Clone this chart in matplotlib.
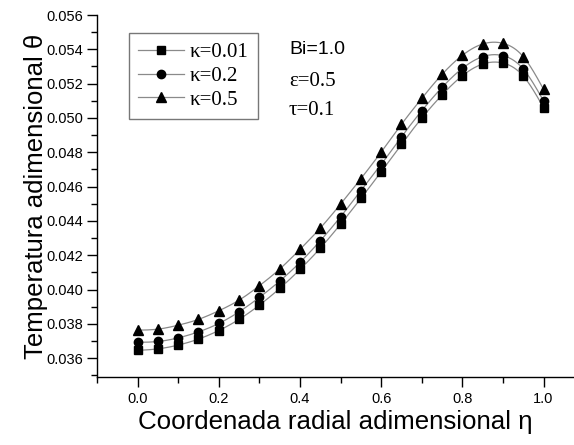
import numpy as np
import matplotlib
matplotlib.use("Agg")
import matplotlib.pyplot as plt
from matplotlib.ticker import MultipleLocator, FormatStrFormatter
from matplotlib.lines import Line2D

# Radial coordinate samples
eta = [0.00, 0.05, 0.10, 0.15, 0.20, 0.25, 0.30, 0.35, 0.40, 0.45, 0.50,
       0.55, 0.60, 0.65, 0.70, 0.75, 0.80, 0.85, 0.90, 0.95, 1.00]

# Dimensionless temperature for each kappa
theta_k001 = [0.03645, 0.03654, 0.03676, 0.03711, 0.03761, 0.03826, 0.03909,
              0.04006, 0.04117, 0.04241, 0.04381, 0.04531, 0.04686, 0.04846,
              0.04999, 0.05134, 0.05246, 0.05314, 0.05320, 0.05244, 0.05060]
theta_k02 = [0.03692, 0.03697, 0.03718, 0.03753, 0.03802, 0.03870, 0.03954,
             0.04049, 0.04158, 0.04284, 0.04424, 0.04576, 0.04729, 0.04890,
             0.05042, 0.05178, 0.05289, 0.05357, 0.05363, 0.05285, 0.05099]
theta_k05 = [0.03763, 0.03769, 0.03792, 0.03826, 0.03876, 0.03938, 0.04022,
             0.04119, 0.04234, 0.04358, 0.04498, 0.04646, 0.04801, 0.04963,
             0.05114, 0.05254, 0.05365, 0.05431, 0.05435, 0.05357, 0.05167]

labels = ["\u03ba=0.01", "\u03ba=0.2", "\u03ba=0.5"]
markers = ["s", "o", "^"]
msizes = [5.2, 6.0, 6.8]


def spline_curve(x, y, n=400):
    """Natural cubic spline through the samples, for a smooth connecting line."""
    x = np.asarray(x, float)
    y = np.asarray(y, float)
    m = len(x)
    h = np.diff(x)
    A = np.zeros((m, m))
    b = np.zeros(m)
    A[0, 0] = A[-1, -1] = 1.0
    for i in range(1, m - 1):
        A[i, i - 1] = h[i - 1]
        A[i, i] = 2 * (h[i - 1] + h[i])
        A[i, i + 1] = h[i]
        b[i] = 3 * ((y[i + 1] - y[i]) / h[i] - (y[i] - y[i - 1]) / h[i - 1])
    c = np.linalg.solve(A, b)
    xs = np.linspace(x[0], x[-1], n)
    idx = np.clip(np.searchsorted(x, xs) - 1, 0, m - 2)
    dx = xs - x[idx]
    bb = (y[idx + 1] - y[idx]) / h[idx] - h[idx] * (2 * c[idx] + c[idx + 1]) / 3
    dd = (c[idx + 1] - c[idx]) / (3 * h[idx])
    ys = y[idx] + bb * dx + c[idx] * dx ** 2 + dd * dx ** 3
    return xs, ys


sans = "Liberation Sans"
serif = "Liberation Serif"

fig = plt.figure(figsize=(5.74, 4.45), dpi=100)
ax = fig.add_axes([97 / 574, 1 - 377 / 445, (574 - 97) / 574, (377 - 15) / 445])

handles = []
for y, lab, mk, ms in zip([theta_k001, theta_k02, theta_k05], labels, markers, msizes):
    xs, ys = spline_curve(eta, y)
    ax.plot(xs, ys, color="#8a8a8a", lw=0.9, zorder=2)
    ax.plot(eta, y, linestyle="none", marker=mk, ms=ms, color="black", zorder=3)
    handles.append(Line2D([0], [0], color="#8a8a8a", lw=0.9, marker=mk, ms=ms,
                          markerfacecolor="black", markeredgecolor="black", label=lab))

ax.set_xlim(-0.1, 1.075)
ax.set_ylim(0.0349, 0.056)

for s in ["top", "right"]:
    ax.spines[s].set_visible(False)
for s in ["left", "bottom"]:
    ax.spines[s].set_linewidth(1.0)

ax.xaxis.set_major_locator(MultipleLocator(0.2))
ax.xaxis.set_minor_locator(MultipleLocator(0.1))
ax.yaxis.set_major_locator(MultipleLocator(0.002))
ax.yaxis.set_minor_locator(MultipleLocator(0.001))
ax.xaxis.set_major_formatter(FormatStrFormatter("%.1f"))
ax.yaxis.set_major_formatter(FormatStrFormatter("%.3f"))
ax.tick_params(which="major", direction="out", length=7, width=1.0, labelsize=10.5)
ax.tick_params(which="minor", direction="out", length=4, width=1.0)
for t in ax.get_xticklabels() + ax.get_yticklabels():
    t.set_fontfamily(sans)
ax.tick_params(axis="x", pad=4)
ax.tick_params(axis="y", pad=3)

ax.set_xlabel("Coordenada radial adimensional \u03b7", fontsize=18.6, family=sans, labelpad=3)
ax.set_ylabel("Temperatura adimensional \u03b8", fontsize=18.5, family=sans, labelpad=-1)

leg = ax.legend(handles=handles, loc="upper left", bbox_to_anchor=(0.067, 0.950),
                prop={"family": serif, "size": 15}, frameon=True, fancybox=False,
                handlelength=2.2, handletextpad=0.25, labelspacing=0.2,
                borderpad=0.45, borderaxespad=0.0)
leg.get_frame().set_edgecolor("#555555")
leg.get_frame().set_linewidth(1.0)

ax.text(0.373, 0.05396, "Bi=1.0", fontsize=14, family=sans, va="center", ha="left")
ax.text(0.373, 0.05215, "\u03b5=0.5", fontsize=15, family=serif, va="center", ha="left")
ax.text(0.373, 0.05046, "\u03c4=0.1", fontsize=15, family=serif, va="center", ha="left")

fig.savefig("out.png", dpi=100)
